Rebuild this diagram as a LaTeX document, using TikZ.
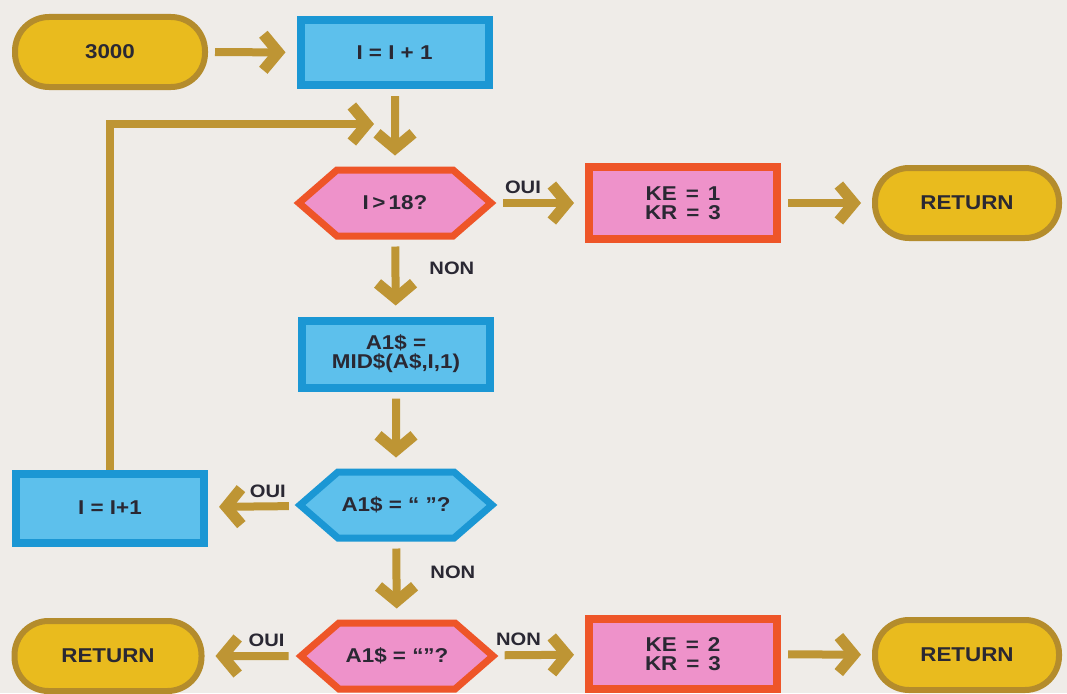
\documentclass[tikz,border=0pt]{standalone}
\usepackage{fontspec}
\setmainfont{Liberation Sans}[FakeStretch=1.12]
\usetikzlibrary{arrows.meta,shapes.symbols}

\definecolor{paper}{HTML}{EFECE8}
\definecolor{goldfill}{HTML}{E9BB1E}
\definecolor{goldline}{HTML}{B48C2C}
\definecolor{bluefill}{HTML}{5DC0EC}
\definecolor{blueline}{HTML}{1B97D4}
\definecolor{pinkfill}{HTML}{EE92CA}
\definecolor{pinkline}{HTML}{EE5528}
\definecolor{flow}{HTML}{BE9534}
\definecolor{ink}{HTML}{2A2833}

\newcommand{\eqsp}{\hspace{0.45em}=\hspace{0.45em}}

\begin{document}
\begin{tikzpicture}[x=1pt,y=-1pt,
  txt/.style={font=\fontsize{20}{19}\selectfont\bfseries, text=ink, align=center, inner sep=0pt},
  term/.style={txt, draw=goldline, fill=goldfill, line width=6pt,
    rounded corners=34pt, minimum width=#1, minimum height=70pt},
  bluebox/.style={txt, draw=blueline, fill=bluefill, line width=8pt,
    minimum width=188pt, minimum height=#1},
  pinkbox/.style={txt, draw=pinkline, fill=pinkfill, line width=8pt,
    minimum width=188pt, minimum height=#1},
  hexa/.style={txt, shape=signal, signal to=east and west,
    signal pointer angle=82, line width=7pt,
    minimum width=192pt, minimum height=66pt},
  bluehex/.style={hexa, draw=blueline, fill=bluefill},
  pinkhex/.style={hexa, draw=pinkline, fill=pinkfill},
  arr/.style={draw=flow, line width=8pt,
    -{Straight Barb[length=15pt,width=36pt,line width=11pt]}},
  gap/.style={shorten <=7pt, shorten >=11pt},
  lbl/.style={font=\fontsize{18}{18}\selectfont\bfseries, text=ink, inner sep=0pt}
]
% page
\useasboundingbox[fill=paper] (0,0) rectangle (1067,693);

% nodes
\node[term=190pt] (start) at (110,52) {3000};
\node[bluebox=65pt] (inc1) at (394.5,52.5) {I = I + 1};
\node[pinkhex] (test18) at (395,203) {I\,>\,18?};
\node[pinkbox=72pt] (ke1) at (683,203) {KE\eqsp 1\\KR\eqsp 3};
\node[term=184pt] (ret1) at (967,203) {RETURN};
\node[bluebox=67pt] (mid) at (396,354) {A1\$ =\\MID\$(A\$,I,1)};
\node[bluehex] (space) at (396,505) {A1\$ = “ ”?};
\node[bluebox=69pt] (inc2) at (110,508) {I = I+1};
\node[pinkhex] (empty) at (397,656) {A1\$ = “”?};
\node[term=187pt] (ret2) at (108,656) {RETURN};
\node[pinkbox=70pt] (ke2) at (683,654) {KE\eqsp 2\\KR\eqsp 3};
\node[term=184pt] (ret3) at (967,655) {RETURN};

% loop back end point
\coordinate (loopend) at (374,124);

% connectors
\draw[arr,gap] (start) -- (inc1);
\draw[arr,gap] (inc1.south -| test18) -- (test18);
\draw[arr,gap] (test18) -- node[lbl,pos=0.3,above=5pt]{OUI} (ke1);
\draw[arr,gap] (ke1) -- (ret1);
\draw[arr,gap] (test18) -- node[lbl,pos=0.38,right=30pt]{NON} (mid);
\draw[arr,gap] (mid) -- (space);
\draw[arr,gap] (space) -- node[lbl,pos=0.32,above=5pt]{OUI} (inc2);
\draw[arr,gap] (space) -- node[lbl,pos=0.39,right=30pt]{NON} (empty);
\draw[arr,gap] (empty) -- node[lbl,pos=0.32,above=5pt]{OUI} (ret2);
\draw[arr,gap] (empty) -- node[lbl,pos=0.24,above=5pt]{NON} (ke2);
\draw[arr,gap] (ke2) -- (ret3);
\draw[arr,line join=miter] (inc2.north) -- (inc2.north |- loopend) -- (loopend);
\end{tikzpicture}
\end{document}
